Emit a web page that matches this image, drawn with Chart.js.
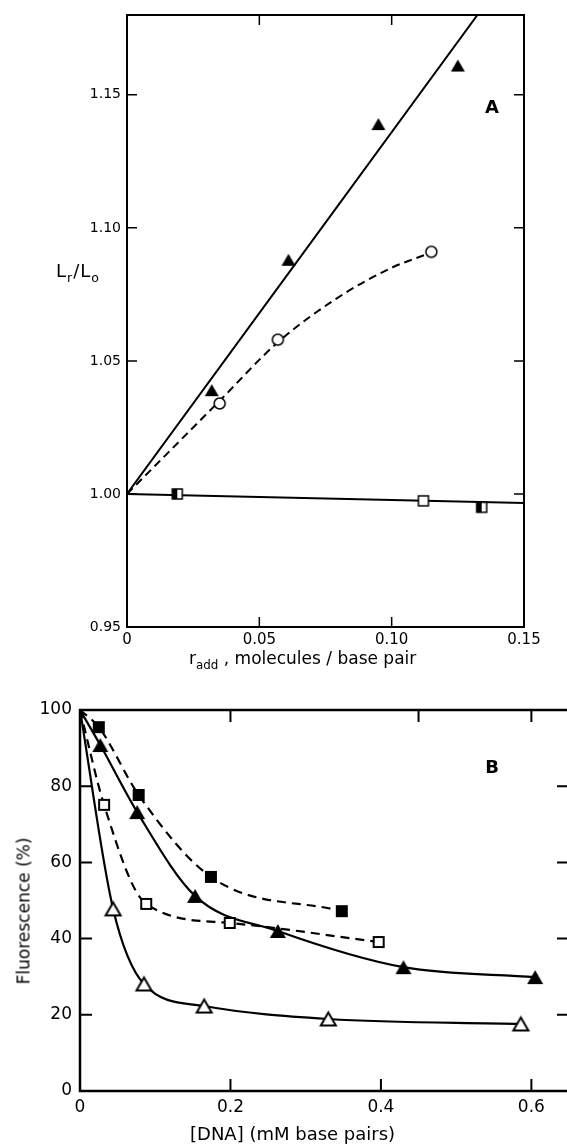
<!DOCTYPE html>
<html>
<head>
<meta charset="utf-8">
<script src="https://cdn.jsdelivr.net/npm/chart.js@4.4.1/dist/chart.umd.min.js"></script>
<style>
  html, body { margin: 0; padding: 0; background: #fff; overflow: hidden; width: 567px; height: 1146px; }
  #wrapA { position: absolute; left: 0; top: 0; width: 567px; height: 660px; }
  #wrapB { position: absolute; left: 0; top: 690px; width: 580px; height: 456px; }
  .t { position: absolute; font-family: "DejaVu Sans", sans-serif; color: #000; white-space: nowrap; line-height: 1; }
  .t sub { font-size: 70%; vertical-align: -0.4em; line-height: 0; }
</style>
</head>
<body>
<div id="wrapA"><canvas id="chartA"></canvas></div>
<div id="wrapB"><canvas id="chartB"></canvas></div>

<div class="t" style="left:56px;top:262px;font-size:18px;letter-spacing:1px">L<sub>r</sub>/L<sub>o</sub></div>
<div class="t" style="left:189px;top:650px;font-size:17px">r<sub>add</sub> , molecules / base pair</div>
<div class="t" style="left:492px;top:107px;font-size:18px;font-weight:bold;transform:translate(-50%,-50%)">A</div>
<div class="t" style="left:492px;top:767px;font-size:18px;font-weight:bold;transform:translate(-50%,-50%)">B</div>
<div class="t" style="left:24px;top:911px;font-size:17px;transform:translate(-50%,-50%) rotate(-90deg)">Fluorescence (%)</div>
<div class="t" style="left:190px;top:1125px;font-size:18px">[DNA] (mM base pairs)</div>

<script>
// ---- panel A ----
const A_X_TICKS = [0, 0.05, 0.10, 0.15];
const A_X_LABELS = ['0', '0.05', '0.10', '0.15'];
const A_Y_TICKS = [0.95, 1.00, 1.05, 1.10, 1.15];
const A_Y_LABELS = ['0.95', '1.00', '1.05', '1.10', '1.15'];
const A_IN_X = [0.05, 0.10];
const A_IN_Y = [1.00, 1.05, 1.10, 1.15];

const A_TRI_X = [0.032, 0.061, 0.095, 0.125];
const A_TRI_Y = [1.039, 1.088, 1.139, 1.161];
const A_CIR_X = [0.035, 0.057, 0.115];
const A_CIR_Y = [1.034, 1.058, 1.091];
const A_SQ_X = [0.112];
const A_SQ_Y = [0.9974];
const A_HSQ_X = [0.019, 0.134];
const A_HSQ_Y = [1.000, 0.9950];

// hand-drawn fit lines
const A_FIT_TRI_X = [0, 0.1324];
const A_FIT_TRI_Y = [1.00, 1.18];
const A_FIT_CIR_X = [0, 0.035, 0.057, 0.080, 0.100, 0.113];
const A_FIT_CIR_Y = [1.00, 1.035, 1.057, 1.074, 1.085, 1.090];
const A_FIT_SQ_X = [0, 0.15];
const A_FIT_SQ_Y = [1.00, 0.9966];

// ---- panel B ----
const B_X_TICKS = [0, 0.2, 0.4, 0.6];
const B_X_LABELS = ['0', '0.2', '0.4', '0.6'];
const B_Y_TICKS = [0, 20, 40, 60, 80, 100];
const B_TOP_MARKS = [0.2, 0.45, 0.6];
const B_BOTTOM_MARKS = [0.2, 0.4, 0.6];
const B_SIDE_MARKS = [20, 40, 60, 80];

const B_FSQ_X = [0.025, 0.078, 0.174, 0.348];
const B_FSQ_Y = [95.5, 77.7, 56.2, 47.2];
const B_FTRI_X = [0.027, 0.076, 0.153, 0.263, 0.430, 0.605];
const B_FTRI_Y = [90.8, 73.2, 51.2, 42.0, 32.5, 29.9];
const B_OSQ_X = [0.032, 0.088, 0.199, 0.397];
const B_OSQ_Y = [75.1, 49.1, 44.1, 39.1];
const B_OTRI_X = [0.044, 0.085, 0.165, 0.330, 0.586];
const B_OTRI_Y = [47.8, 28.1, 22.3, 18.9, 17.6];

const pts = (xs, ys) => xs.map((x, i) => ({ x, y: ys[i] }));
const fromOrigin = (xs, ys, y0) => pts([0, ...xs], [y0, ...ys]);

function marker(kind, size, lw) {
  const pad = Math.ceil(lw) + 1;
  const c = document.createElement('canvas');
  c.width = c.height = size + pad * 2;
  const g = c.getContext('2d');
  g.lineWidth = lw;
  g.strokeStyle = '#000';
  g.lineJoin = 'miter';
  const o = pad, s = size;
  if (kind === 'tri' || kind === 'otri') {
    const h = s * 0.87, top = o + (s - h) / 2;
    g.beginPath();
    g.moveTo(o + s / 2, top);
    g.lineTo(o + s, top + h);
    g.lineTo(o, top + h);
    g.closePath();
    g.fillStyle = kind === 'tri' ? '#000' : '#fff';
    g.fill();
    if (kind === 'otri') g.stroke();
  } else if (kind === 'circle') {
    g.beginPath();
    g.arc(o + s / 2, o + s / 2, s / 2, 0, Math.PI * 2);
    g.fillStyle = '#fff';
    g.fill();
    g.stroke();
  } else if (kind === 'sq' || kind === 'osq') {
    g.fillStyle = kind === 'sq' ? '#000' : '#fff';
    g.fillRect(o, o, s, s);
    if (kind === 'osq') g.strokeRect(o, o, s, s);
  } else if (kind === 'hsq') {
    g.fillStyle = '#fff';
    g.fillRect(o, o, s, s);
    g.fillStyle = '#000';
    g.fillRect(o, o, s / 2, s);
    g.strokeRect(o, o, s, s);
  }
  return c;
}

// box around the plot + inward tick marks
const frameTicks = {
  id: 'frameTicks',
  afterDatasetsDraw(chart, args, o) {
    const { ctx, chartArea: a, scales: { x, y } } = chart;
    ctx.save();
    ctx.strokeStyle = '#000';
    ctx.lineWidth = o.frame;
    ctx.strokeRect(a.left, a.top, a.right - a.left, a.bottom - a.top);
    ctx.lineWidth = o.tick;
    ctx.beginPath();
    (o.left || []).forEach(v => { const p = y.getPixelForValue(v); ctx.moveTo(a.left, p); ctx.lineTo(a.left + o.len, p); });
    (o.right || []).forEach(v => { const p = y.getPixelForValue(v); ctx.moveTo(a.right, p); ctx.lineTo(a.right - o.len, p); });
    (o.top || []).forEach(v => { const p = x.getPixelForValue(v); ctx.moveTo(p, a.top); ctx.lineTo(p, a.top + o.len); });
    (o.bottom || []).forEach(v => { const p = x.getPixelForValue(v); ctx.moveTo(p, a.bottom); ctx.lineTo(p, a.bottom - o.len); });
    ctx.stroke();
    ctx.restore();
  }
};

function axis(min, max, ticks, labels, size, fontSize, pad, horizontal) {
  return {
    type: 'linear', min, max,
    afterBuildTicks: s => { s.ticks = ticks.map(v => ({ value: v })); },
    afterFit: s => { if (horizontal) s.height = size; else s.width = size; },
    ticks: {
      autoSkip: false, maxRotation: 0, padding: pad, color: '#000',
      font: { family: 'DejaVu Sans', size: fontSize },
      callback: (v, i) => labels[i]
    },
    grid: { display: false, drawTicks: false },
    border: { display: false }
  };
}

function scatter(data, img, order) {
  return { data, showLine: false, pointStyle: img, pointRadius: 8, pointHoverRadius: 8, order };
}
function curve(data, width, dash) {
  return {
    data, showLine: true, borderColor: '#000', borderWidth: width, borderDash: dash,
    pointRadius: 0, pointHoverRadius: 0, cubicInterpolationMode: 'monotone', order: 2
  };
}

const base = {
  responsive: true,
  maintainAspectRatio: false,
  animation: false,
  events: [],
  plugins: { legend: { display: false }, tooltip: { enabled: false } }
};

new Chart(document.getElementById('chartA'), {
  type: 'scatter',
  data: {
    datasets: [
      scatter(pts(A_TRI_X, A_TRI_Y), marker('tri', 14, 1), 0),
      scatter(pts(A_CIR_X, A_CIR_Y), marker('circle', 11, 1.5), 0),
      scatter(pts(A_SQ_X, A_SQ_Y), marker('osq', 10, 1.5), 0),
      scatter(pts(A_HSQ_X, A_HSQ_Y), marker('hsq', 10, 1.5), 0),
      curve(pts(A_FIT_TRI_X, A_FIT_TRI_Y), 2, []),
      curve(pts(A_FIT_CIR_X, A_FIT_CIR_Y), 2, [8, 5]),
      curve(pts(A_FIT_SQ_X, A_FIT_SQ_Y), 2, [])
    ]
  },
  options: {
    ...base,
    layout: { padding: { top: 15, right: 43, left: 0, bottom: 0 } },
    scales: {
      x: axis(0, 0.15, A_X_TICKS, A_X_LABELS, 33, 15, 4, true),
      y: axis(0.95, 1.18, A_Y_TICKS, A_Y_LABELS, 127, 14, 6, false)
    },
    plugins: {
      ...base.plugins,
      frameTicks: { frame: 2, tick: 1.5, len: 10, left: A_IN_Y, right: A_IN_Y, top: A_IN_X, bottom: A_IN_X }
    }
  },
  plugins: [frameTicks]
});

new Chart(document.getElementById('chartB'), {
  type: 'scatter',
  data: {
    datasets: [
      scatter(pts(B_FSQ_X, B_FSQ_Y), marker('sq', 12, 1), 0),
      scatter(pts(B_FTRI_X, B_FTRI_Y), marker('tri', 16, 1), 0),
      scatter(pts(B_OSQ_X, B_OSQ_Y), marker('osq', 10, 2), 0),
      scatter(pts(B_OTRI_X, B_OTRI_Y), marker('otri', 15, 2), 0),
      curve(fromOrigin(B_FSQ_X, B_FSQ_Y, 100), 2.2, [9, 6]),
      curve(fromOrigin(B_FTRI_X, B_FTRI_Y, 100), 2.2, []),
      curve(fromOrigin(B_OSQ_X, B_OSQ_Y, 100), 2.2, [9, 6]),
      curve(fromOrigin(B_OTRI_X, B_OTRI_Y, 100), 2.2, [])
    ]
  },
  options: {
    ...base,
    layout: { padding: { top: 20, right: 11, left: 0, bottom: 0 } },
    scales: {
      x: axis(0, 0.65, B_X_TICKS, B_X_LABELS, 55, 17, 6, true),
      y: axis(0, 100, B_Y_TICKS, B_Y_TICKS.map(String), 80, 17, 8, false)
    },
    plugins: {
      ...base.plugins,
      frameTicks: { frame: 2.5, tick: 2, len: 12, left: B_SIDE_MARKS, right: B_SIDE_MARKS, top: B_TOP_MARKS, bottom: B_BOTTOM_MARKS }
    }
  },
  plugins: [frameTicks]
});
</script>
</body>
</html>
